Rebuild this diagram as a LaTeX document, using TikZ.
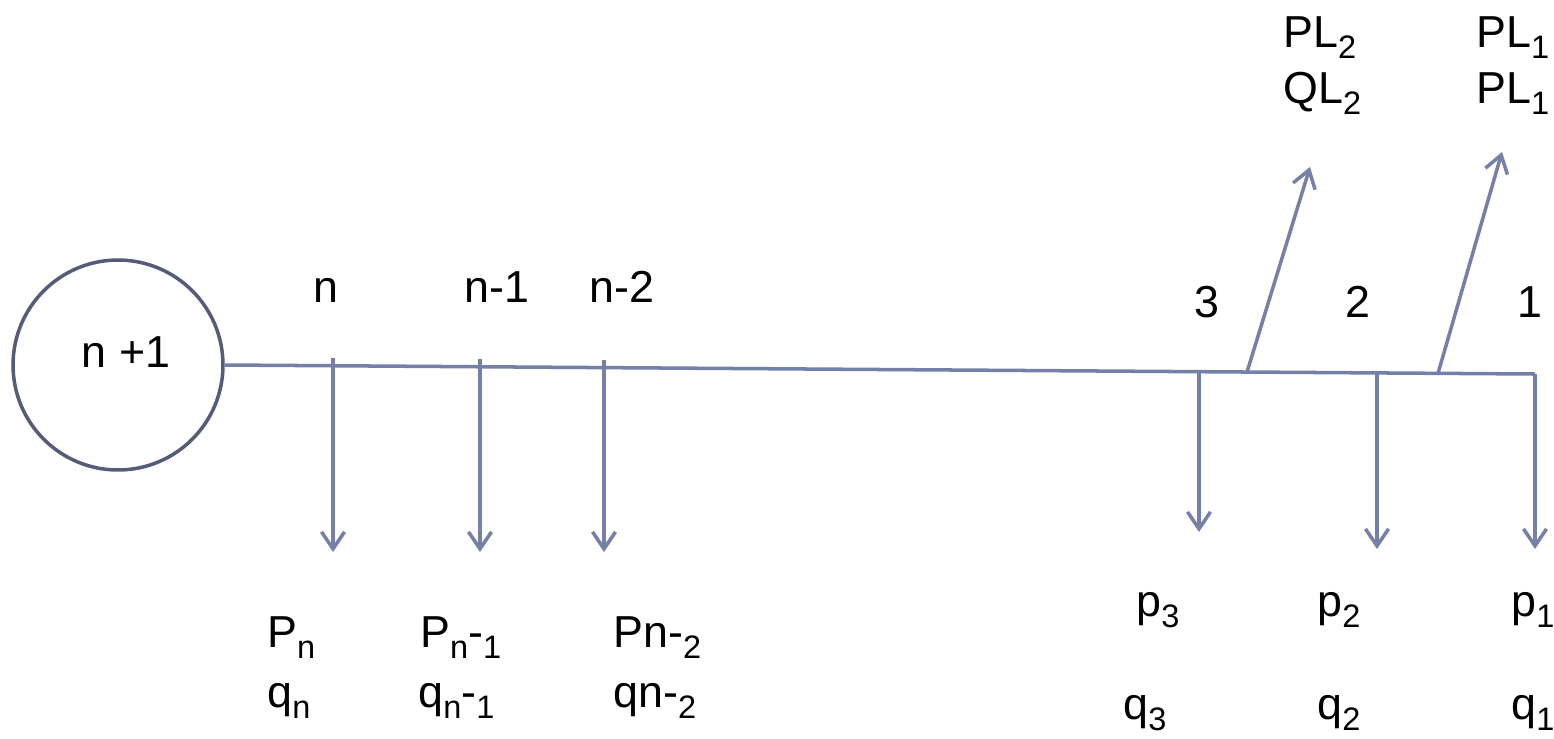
\documentclass[tikz,border=0pt]{standalone}
\usepackage{fontspec}
\setmainfont{Liberation Sans}
\usetikzlibrary{arrows.meta,positioning}
\definecolor{feeder}{HTML}{7480A8}
\definecolor{ring}{HTML}{545C7A}
\newcommand{\lowsub}[1]{\raisebox{-0.26em}{\fontsize{18.5}{18.5}\selectfont#1}}

\begin{document}
\begin{tikzpicture}[x=0.02cm, y=-0.02cm,
    >={Straight Barb[length=3.4mm, width=4.6mm]},
    wire/.style={draw=feeder, line width=2pt},
    lbl/.style={inner sep=0pt, font=\fontsize{25.5}{30}\selectfont},
    num/.style={lbl, anchor=base},
    val/.style={lbl, anchor=base west}]
    \useasboundingbox (0,0) rectangle (1554,738);
    \node [circle, draw=ring, line width=2pt, minimum size=4.2cm, inner sep=0pt] (src) at (118,365) {};
    \node [num] (srctxt) at (126,367) {n +1};
    \coordinate (end) at (1535,374);
    \draw [wire] (src.east) -- (end);
    % taps on the feeder
    \coordinate (tn)  at (333,358);  \coordinate (dn)  at (333,552);
    \coordinate (tn1) at (480,359);  \coordinate (dn1) at (480,552);
    \coordinate (tn2) at (604,360);  \coordinate (dn2) at (604,552);
    \coordinate (t3)  at (1199,371.7); \coordinate (d3) at (1199,532);
    \coordinate (t2)  at (1377,372.9); \coordinate (d2) at (1377,549);
    \coordinate (t1)  at (end);      \coordinate (d1)  at (1535,549);
    \coordinate (r2)  at (1247,372); \coordinate (u2)  at (1310,167);
    \coordinate (r1)  at (1438,373.3); \coordinate (u1) at (1502,152);
    \draw [wire, ->] (tn) -- (dn);
    \draw [wire, ->] (tn1) -- (dn1);
    \draw [wire, ->] (tn2) -- (dn2);
    \draw [wire, ->] (t3) -- (d3);
    \draw [wire, ->] (t2) -- (d2);
    \draw [wire, ->] (t1) -- (d1);
    \draw [wire, ->] (r2) -- (u2);
    \draw [wire, ->] (r1) -- (u1);
    % bus numbers
    \node [num] (bn)  at (326,302)  {n};
    \node [num] (bn1) at (497,302)  {n-1};
    \node [num] (bn2) at (622,302)  {n-2};
    \node [num] (b3)  at (1207,317) {3};
    \node [num] (b2)  at (1358,317) {2};
    \node [num] (b1)  at (1530,317) {1};
    % loads
    \node [val] (pn)  at (267,647)  {P\lowsub{n}};
    \node [val] (qn)  at (267,707)  {q\lowsub{n}};
    \node [val] (pn1) at (420,647)  {P\lowsub{n}-\lowsub{1}};
    \node [val] (qn1) at (418,707)  {q\lowsub{n}-\lowsub{1}};
    \node [val] (pn2) at (613,647)  {Pn-\lowsub{2}};
    \node [val] (qn2) at (613,707)  {qn-\lowsub{2}};
    \node [val] (p3)  at (1136,616) {p\lowsub{3}};
    \node [val] (q3)  at (1123,719) {q\lowsub{3}};
    \node [val] (p2)  at (1317,616) {p\lowsub{2}};
    \node [val] (q2)  at (1317,719) {q\lowsub{2}};
    \node [val] (p1)  at (1511,616) {p\lowsub{1}};
    \node [val] (q1)  at (1511,719) {q\lowsub{1}};
    % line flows
    \node [val] (pl2) at (1283,47)  {PL\lowsub{2}};
    \node [val] (ql2) at (1283,103) {QL\lowsub{2}};
    \node [val] (pl1) at (1476,47)  {PL\lowsub{1}};
    \node [val] (ql1) at (1476,103) {PL\lowsub{1}};
\end{tikzpicture}
\end{document}
